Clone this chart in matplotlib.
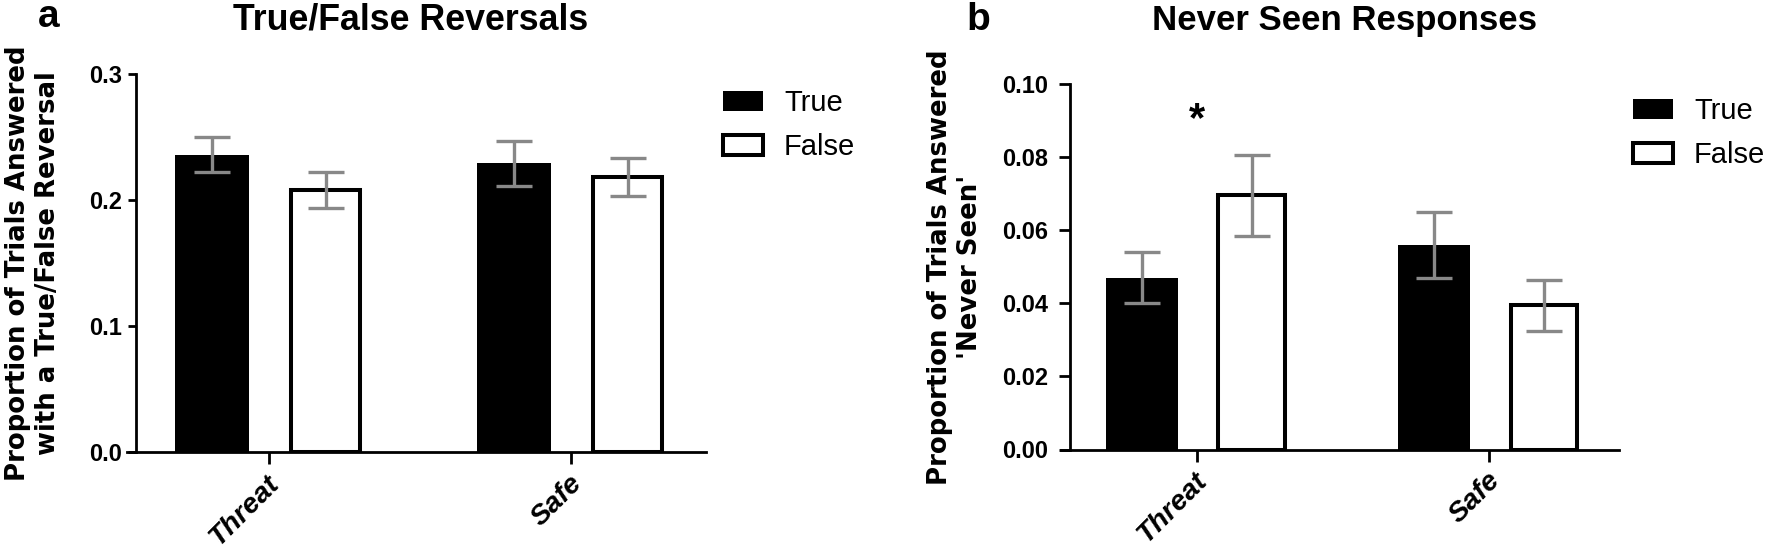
import matplotlib
matplotlib.use("Agg")
import matplotlib.pyplot as plt
import matplotlib.transforms as mtransforms
import numpy as np

# ---------------- data ----------------
categories = ["Threat", "Safe"]
series_names = ["True", "False"]

rev_true = [0.236, 0.229]
rev_true_err = [0.014, 0.018]
rev_false = [0.208, 0.218]
rev_false_err = [0.0145, 0.015]

ns_true = [0.047, 0.056]
ns_true_err = [0.007, 0.009]
ns_false = [0.0695, 0.0395]
ns_false_err = [0.011, 0.007]

rev_yticks = [0.0, 0.1, 0.2, 0.3]
rev_yticklabels = ["0.0", "0.1", "0.2", "0.3"]
ns_yticks = [0.00, 0.02, 0.04, 0.06, 0.08, 0.10]
ns_yticklabels = ["0.00", "0.02", "0.04", "0.06", "0.08", "0.10"]

star_category = 0
star_level = 0.0872

# ---------------- style ----------------
W, H = 1770, 549
ARIAL = ["Liberation Sans", "DejaVu Sans"]
WIDE = ["DejaVu Sans"]
GREY = "#888888"

fig = plt.figure(figsize=(W / 100, H / 100), dpi=100)
renderer = fig.canvas.get_renderer()


def fit_size(text, family, weight, target_px, base=20.0):
    t = fig.text(0, 0, text, fontsize=base, fontfamily=family,
                 fontweight=weight)
    w = t.get_window_extent(renderer).width
    t.remove()
    return base * target_px / w


title_a_size = fit_size("True/False Reversals", ARIAL, "bold", 355)
title_b_size = fit_size("Never Seen Responses", ARIAL, "bold", 385)
ylab_size = fit_size("Proportion of Trials Answered", WIDE, "bold", 437)


def rect_px(left, right, top, bottom):
    return [left / W, 1 - bottom / H, (right - left) / W, (bottom - top) / H]


def panel(rect, xlim, spine_x, ylim, yticks, yticklabels,
          tv, te, fv, fe, legend_xy, ytick_len, ytick_pad):
    ax = fig.add_axes(rect)
    x = np.arange(len(categories))
    off = 0.188
    ax.bar(x - off, tv, width=0.245, color="black", edgecolor="black",
           linewidth=0, label=series_names[0], zorder=2)
    ax.bar(x + off, fv, width=0.228, color="white", edgecolor="black",
           linewidth=2.9, label=series_names[1], zorder=2)
    ax.errorbar(x - off, tv, yerr=te, fmt="none", ecolor=GREY,
                elinewidth=2.4, capsize=13, capthick=2.4, zorder=3)
    ax.errorbar(x + off, fv, yerr=fe, fmt="none", ecolor=GREY,
                elinewidth=2.4, capsize=13, capthick=2.4, zorder=3)

    ax.set_xlim(*xlim)
    ax.set_ylim(*ylim)
    for s in ("top", "right"):
        ax.spines[s].set_visible(False)
    ax.spines["left"].set_position(("data", spine_x))
    ax.spines["left"].set_linewidth(2.0)
    ax.spines["bottom"].set_linewidth(2.0)

    ax.set_yticks(yticks)
    ax.set_yticklabels(yticklabels, fontfamily=ARIAL, fontweight="bold",
                       fontsize=17)
    ax.tick_params(axis="y", direction="out", length=ytick_len, width=2.0,
                   pad=ytick_pad)

    ax.set_xticks(x)
    ax.set_xticklabels(categories, fontfamily=ARIAL, fontweight="bold",
                       fontstyle="italic", fontsize=20.5, rotation=45,
                       ha="right", va="center", rotation_mode="anchor")
    ax.tick_params(axis="x", direction="out", length=8.6, width=2.0, pad=11)
    shift = mtransforms.ScaledTranslation(7 / 100, 0, fig.dpi_scale_trans)
    for lab in ax.get_xticklabels():
        lab.set_transform(lab.get_transform() + shift)

    ax.legend(loc="center left",
              bbox_to_anchor=(legend_xy[0] / W, 1 - legend_xy[1] / H),
              bbox_transform=fig.transFigure, frameon=False,
              prop={"family": ARIAL, "size": 21},
              handlelength=1.37, handleheight=0.68,
              handletextpad=0.72, labelspacing=0.55,
              borderpad=0, borderaxespad=0)
    return ax


axA = panel(rect_px(127, 706, 74, 452), (-0.470, 1.447), -0.440,
            (0, 0.3), rev_yticks, rev_yticklabels,
            rev_true, rev_true_err, rev_false, rev_false_err, (723, 125),
            5.8, 4.5)

axB = panel(rect_px(1061, 1619, 84, 449.5), (-0.464, 1.444), -0.433,
            (0, 0.10), ns_yticks, ns_yticklabels,
            ns_true, ns_true_err, ns_false, ns_false_err, (1633, 133),
            7.7, 8)

axB.text(star_category, star_level, "*", ha="center", va="baseline",
         fontsize=30, fontweight="bold", fontfamily=ARIAL)

# titles
fig.text(411 / W, 1 - 30 / H, "True/False Reversals", ha="center",
         va="baseline", fontsize=title_a_size, fontweight="bold",
         fontfamily=ARIAL)
fig.text(1345 / W, 1 - 30 / H, "Never Seen Responses", ha="center",
         va="baseline", fontsize=title_b_size, fontweight="bold",
         fontfamily=ARIAL)

# panel letters
fig.text(38 / W, 1 - 27 / H, "a", ha="left", va="baseline", fontsize=28,
         fontweight="bold", fontfamily=ARIAL)
fig.text(966 / W, 1 - 30 / H, "b", ha="left", va="baseline", fontsize=28,
         fontweight="bold", fontfamily=ARIAL)

# y labels
fig.text(33 / W, 1 - 263 / H,
         "Proportion of Trials Answered\nwith a True/False Reversal",
         rotation=90, ha="center", va="center", multialignment="center",
         fontsize=ylab_size, fontweight="bold", fontfamily=WIDE,
         linespacing=1.2)
fig.text(955 / W, 1 - 267 / H,
         "Proportion of Trials Answered\n'Never Seen'",
         rotation=90, ha="center", va="center", multialignment="center",
         fontsize=ylab_size, fontweight="bold", fontfamily=WIDE,
         linespacing=1.2)

fig.savefig("out.png", dpi=100)
